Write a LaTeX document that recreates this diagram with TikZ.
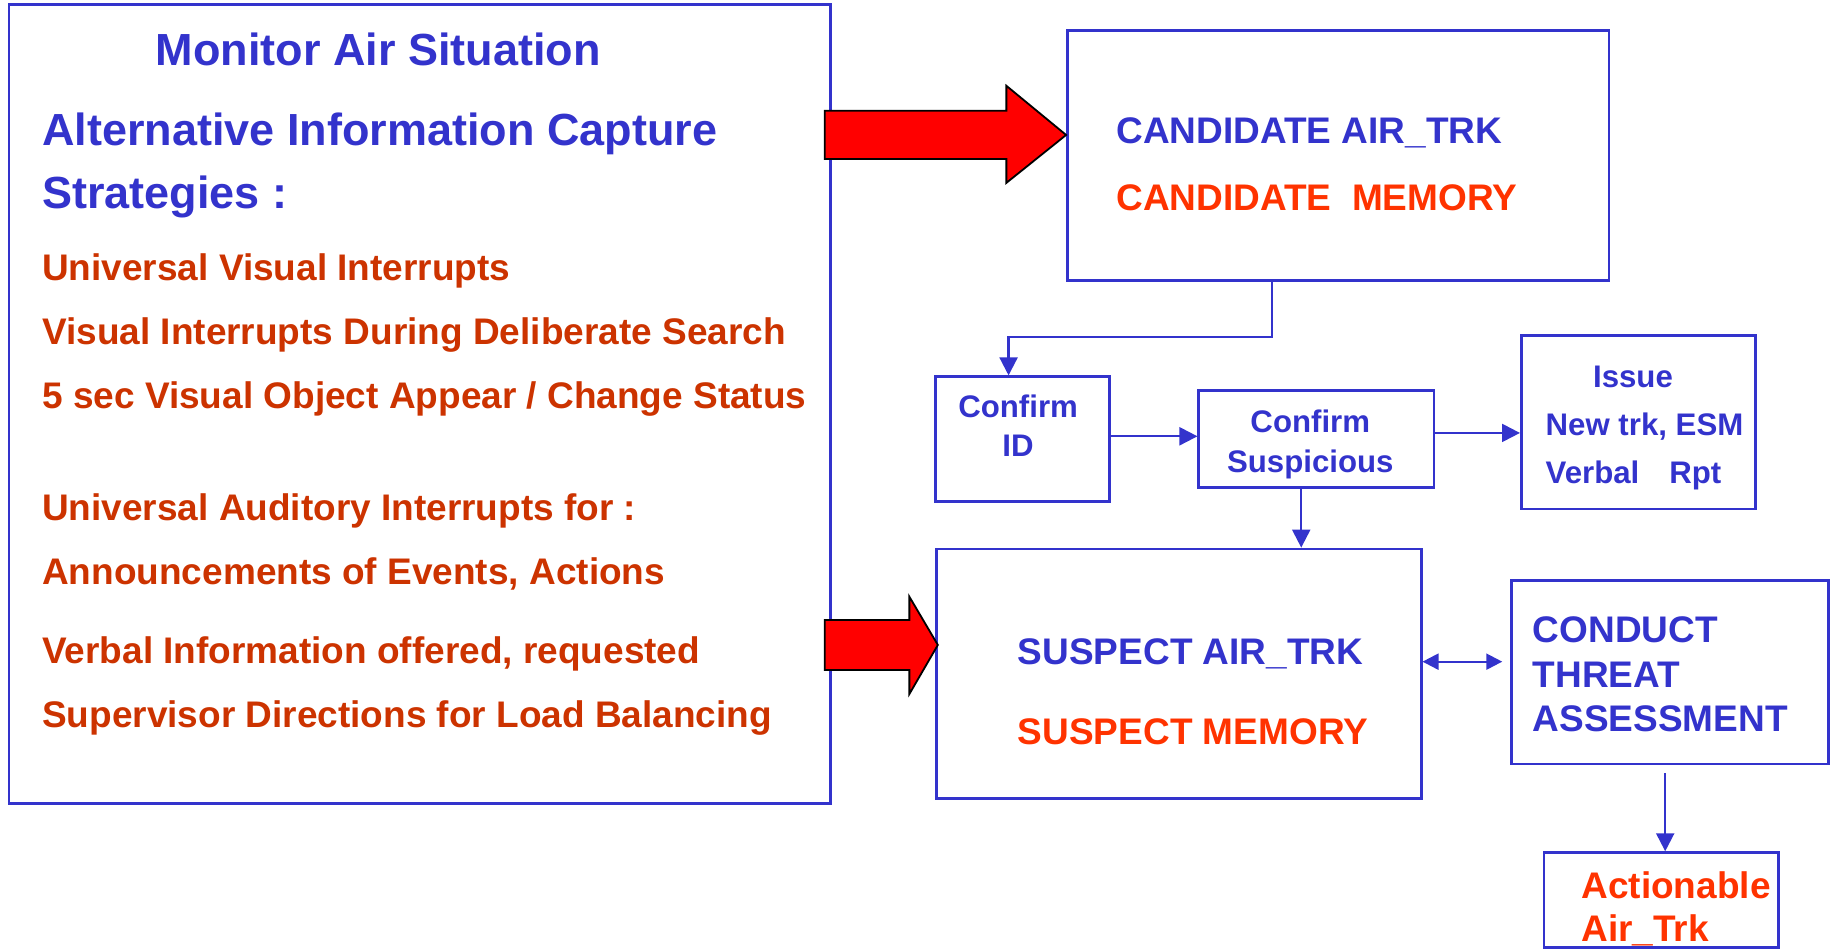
\documentclass[tikz,border=0pt]{standalone}
\usepackage{fontspec}
\setmainfont{Liberation Sans}
\usetikzlibrary{positioning,fit,arrows.meta}
\definecolor{airblue}{RGB}{51,51,204}
\definecolor{airred}{RGB}{204,51,0}
\definecolor{memred}{RGB}{255,51,0}

\begin{document}
\begin{tikzpicture}[
    x=0.5858pt, y=-0.5858pt,
 boxframe/.style = {
        draw=airblue, line width=1.4pt, inner sep=0pt},
  bigtxt/.style = {
        font=\fontsize{22.5}{31.6}\selectfont\bfseries, text=airblue,
        align=left, anchor=base west, inner sep=0pt},
  redtxt/.style = {
        font=\fontsize{18.5}{32}\selectfont\bfseries, text=airred,
        align=left, anchor=base west, inner sep=0pt},
 bluetxt/.style = {
        font=\fontsize{18.5}{22.3}\selectfont\bfseries, text=airblue,
        align=left, anchor=base west, inner sep=0pt},
smalltxt/.style = {
        font=\fontsize{15.6}{19.6}\selectfont\bfseries, text=airblue,
        align=center, anchor=base, inner sep=0pt},
     conn/.style = {draw=airblue, line width=1.1pt,
                    -{Triangle[length=9pt,width=9pt]}},
    conn2/.style = {draw=airblue, line width=1.1pt,
                    {Triangle[length=8pt,width=8pt]}-{Triangle[length=8pt,width=8pt]}},
 bigarrow/.style = {draw=black, line width=0.9pt, fill=red, line join=miter}
                    ]
\useasboundingbox (0,0) rectangle (1568,810);
% the frames
\node (mon)  [boxframe, fit={(7.7,4) (708.6,685.7)}] {};
\node (cand) [boxframe, fit={(911,26) (1373.3,239.3)}] {};
\node (cid)  [boxframe, fit={(798.3,321.6) (947,428.3)}] {};
\node (csus) [boxframe, fit={(1023.3,333.2) (1224,416.1)}] {};
\node (iss)  [boxframe, fit={(1298.6,286.5) (1498.7,434.4)}] {};
\node (susp) [boxframe, fit={(799.4,468.6) (1213,681.4)}] {};
\node (cta)  [boxframe, fit={(1290.3,495.6) (1560.6,652.1)}] {};
\node (act)  [boxframe, fit={(1317.9,727.8) (1518,808.9)}] {};
% the texts on the left (placed by the baseline of their last line)
\node (montitle) [bigtxt] at (132.5,55.6) {Monitor Air Situation};
\node (monhead)  [bigtxt] at (35.7,178)   {Alternative Information Capture\\
                                          Strategies :};
\node (monvis)   [redtxt] at (35.7,348.5) {Universal Visual Interrupts\\
                                          Visual Interrupts During Deliberate Search\\
                                          5 sec Visual Object Appear / Change Status};
\node (monaud)   [redtxt] at (35.7,499)   {Universal Auditory Interrupts for :\\
                                          Announcements of Events, Actions};
\node (monverb)  [redtxt] at (35.7,621)   {Verbal Information offered, requested\\
                                          Supervisor Directions for Load Balancing};
% the texts on the right
\node (candtxt) [bluetxt, font=\fontsize{18.5}{33.7}\selectfont\bfseries]
                at (952.6,180) {CANDIDATE AIR\_TRK\\
                                \textcolor{memred}{CANDIDATE\ \ MEMORY}};
\node (cidtxt)  [smalltxt] at (869,390)    {Confirm\\ID};
\node (csustxt) [smalltxt] at (1118.4,403) {Confirm\\Suspicious};
\node (isstxt)  [smalltxt, align=left, anchor=base west,
                 font=\fontsize{15.6}{24}\selectfont\bfseries]
                at (1319,413) {\hspace*{23.7pt}Issue\\
                               New trk, ESM\\
                               Verbal\hspace{15pt}Rpt};
\node (susptxt) [bluetxt, font=\fontsize{18.5}{39.7}\selectfont\bfseries]
                at (868.5,635.3) {SUSPECT AIR\_TRK\\
                                  \textcolor{memred}{SUSPECT MEMORY}};
\node (ctatxt)  [bluetxt] at (1308,624.5) {CONDUCT\\THREAT\\ASSESSMENT};
\node (acttxt)  [bluetxt, text=memred, font=\fontsize{18.5}{21.7}\selectfont\bfseries]
                at (1349.5,803.8) {Actionable\\Air\_Trk};
% the big red arrows
\draw[bigarrow] (704,94.5) -- (859,94.5) -- (859,73.2) -- (910,115.2)
                -- (859,156.1) -- (859,135.7) -- (704,135.7) -- cycle;
\draw[bigarrow] (704,529.2) -- (776.2,529.2) -- (776.2,509.3) -- (800.5,550.5)
                -- (776.2,592.4) -- (776.2,571.9) -- (704,571.9) -- cycle;
% connectors
\draw[conn] ([xshift=-33.1pt]cand.south) -- ++(0,47.2) -| ([xshift=-6.9pt]cid.north);
\draw[conn] ([yshift=1.5pt]cid.east) -- ([yshift=1.5pt]cid.east -| csus.west);
\draw[conn] ([yshift=3pt]csus.east) -- ([yshift=3pt]csus.east -| iss.west);
\draw[conn] ([xshift=-7.6pt]csus.south) -- ([xshift=-7.6pt]csus.south |- susp.north);
\draw[conn2, shorten >=4pt] ([yshift=6pt]susp.east) -- ([yshift=6pt]susp.east -| cta.west);
\draw[conn, shorten <=4pt] ([xshift=-2.4pt]cta.south) -- ([xshift=-2.4pt]cta.south |- act.north);
\end{tikzpicture}
\end{document}
